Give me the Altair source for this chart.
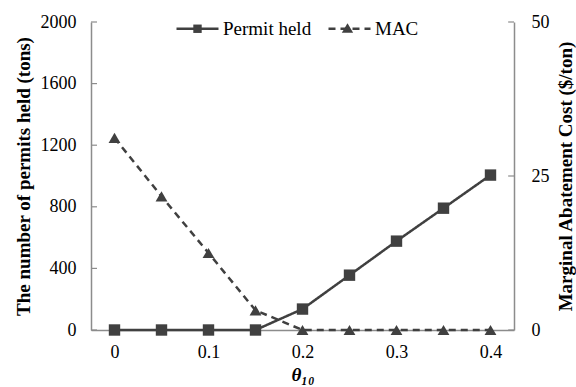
import altair as alt
import pandas as pd

theta = [0, 0.05, 0.1, 0.15, 0.2, 0.25, 0.3, 0.35, 0.4]
permit_held = [0, 0, 0, 0, 136, 356, 577, 791, 1006]
mac = [31.2, 21.7, 12.5, 3.2, 0, 0, 0, 0, 0]
left_ticks = [0, 400, 800, 1200, 1600, 2000]
right_ticks = [0, 25, 50]
x_ticks = [0, 0.1, 0.2, 0.3, 0.4]
series_names = ["Permit held", "MAC"]
marker_keys = ["Permit held*", "MAC*"]

FONT = "Liberation Serif"
DARK = "#404040"
AXIS = "#8c8c8c"

df_p = pd.DataFrame({"theta": theta, "val": permit_held, "series": series_names[0]})
df_m = pd.DataFrame({"theta": theta, "val": mac, "series": series_names[1]})
df_k = pd.DataFrame({"theta": [0, 0], "val": [0, 0], "key": marker_keys})
df_lt = pd.DataFrame({"t": left_ticks})
df_rt = pd.DataFrame({"t": right_ticks})

LEG = dict(
    title=None, orient="none", direction="horizontal",
    legendX=84, legendY=-16, padding=0,
    symbolSize=1764, labelOffset=3,
    labelFontSize=19, labelFont=FONT,
    symbolOpacity=1, symbolStrokeWidth=2.5, symbolStrokeColor=DARK,
)

xenc = alt.X(
    "theta:Q",
    scale=alt.Scale(domain=[-0.025, 0.425], nice=False, zero=False),
    axis=alt.Axis(
        values=x_ticks, format="~g", ticks=False, grid=False,
        domainColor=AXIS, domainWidth=1.5, labelPadding=13,
        title="θ₁₀", titleFontStyle="italic", titleFontWeight="bold",
        titlePadding=4,
    ),
)

dash = alt.StrokeDash(
    "series:N",
    scale=alt.Scale(domain=series_names, range=[[1, 0], [7, 5]]),
    legend=alt.Legend(symbolType="stroke", labelColor="black", columnPadding=11, **LEG),
)

# marker glyphs for the legend key (unit coords, scaled by sqrt(size)/2 = 21px)
sq_path = "M-0.2,-0.2L0.2,-0.2L0.2,0.2L-0.2,0.2Z"
tri_path = "M0,-0.26L0.27,0.19L-0.27,0.19Z"

yl_scale = alt.Scale(domain=[0, 2000], nice=False)
yr_scale = alt.Scale(domain=[0, 50], nice=False)

perm_line = alt.Chart(df_p).mark_line(color=DARK, strokeWidth=2.5).encode(
    x=xenc,
    y=alt.Y("val:Q", scale=yl_scale, axis=alt.Axis(
        values=left_ticks, format="d", ticks=False, grid=False, domainColor=AXIS, domainWidth=1.5,
        labelPadding=15, title="The number of permits held (tons)",
        titleFontWeight="bold", titlePadding=7)),
    strokeDash=dash,
)
perm_pts = alt.Chart(df_p).mark_point(shape="square", filled=True, opacity=1, color=DARK, size=130).encode(
    x="theta:Q", y=alt.Y("val:Q", scale=yl_scale)
)
perm_ticks = alt.Chart(df_lt).mark_rule(color=AXIS, strokeWidth=1.2).encode(
    y=alt.Y("t:Q", scale=yl_scale), x=alt.value(0), x2=alt.value(6)
)
key_layer = alt.Chart(df_k).mark_point(filled=True, opacity=1, color=DARK).encode(
    x="theta:Q", y=alt.Y("val:Q", scale=yl_scale),
    shape=alt.Shape(
        "key:N",
        scale=alt.Scale(domain=marker_keys, range=[sq_path, tri_path]),
        legend=alt.Legend(
            symbolFillColor=DARK, labelColor="black", labelExpr="''",
            columnPadding=102, **LEG,
        ),
    ),
).transform_filter("false")

mac_line = alt.Chart(df_m).mark_line(color=DARK, strokeWidth=2.5).encode(
    x="theta:Q",
    y=alt.Y("val:Q", scale=yr_scale, axis=alt.Axis(
        orient="right", values=right_ticks, ticks=False, grid=False, domainColor=AXIS,
        domainWidth=1.5, labelPadding=17, title="Marginal Abatement Cost ($/ton)",
        titleFontWeight="bold", titleAngle=270, titlePadding=26)),
    strokeDash=dash,
)
mac_pts = alt.Chart(df_m).mark_point(shape="triangle-up", filled=True, opacity=1, color=DARK, size=140).encode(
    x="theta:Q", y=alt.Y("val:Q", scale=yr_scale)
)
mac_ticks = alt.Chart(df_rt).mark_rule(color=AXIS, strokeWidth=1.2).encode(
    y=alt.Y("t:Q", scale=yr_scale), x=alt.value(417), x2=alt.value(423)
)

chart = alt.layer(
    alt.layer(perm_line, perm_ticks, perm_pts, key_layer),
    alt.layer(mac_line, mac_ticks, mac_pts),
).resolve_scale(y="independent").properties(
    width=423, height=308,
    autosize=alt.AutoSizeParams(type="none"),
    padding={"left": 91, "top": 22, "right": 62, "bottom": 57},
).configure(
    font=FONT, background="white"
).configure_view(stroke=None).configure_axis(
    labelFont=FONT, titleFont=FONT, labelFontSize=18, titleFontSize=19,
    labelColor="black", titleColor="black",
).configure_legend(labelFont=FONT, labelFontSize=19)

chart.save("out.html", embed_options={"renderer": "svg", "actions": False})
